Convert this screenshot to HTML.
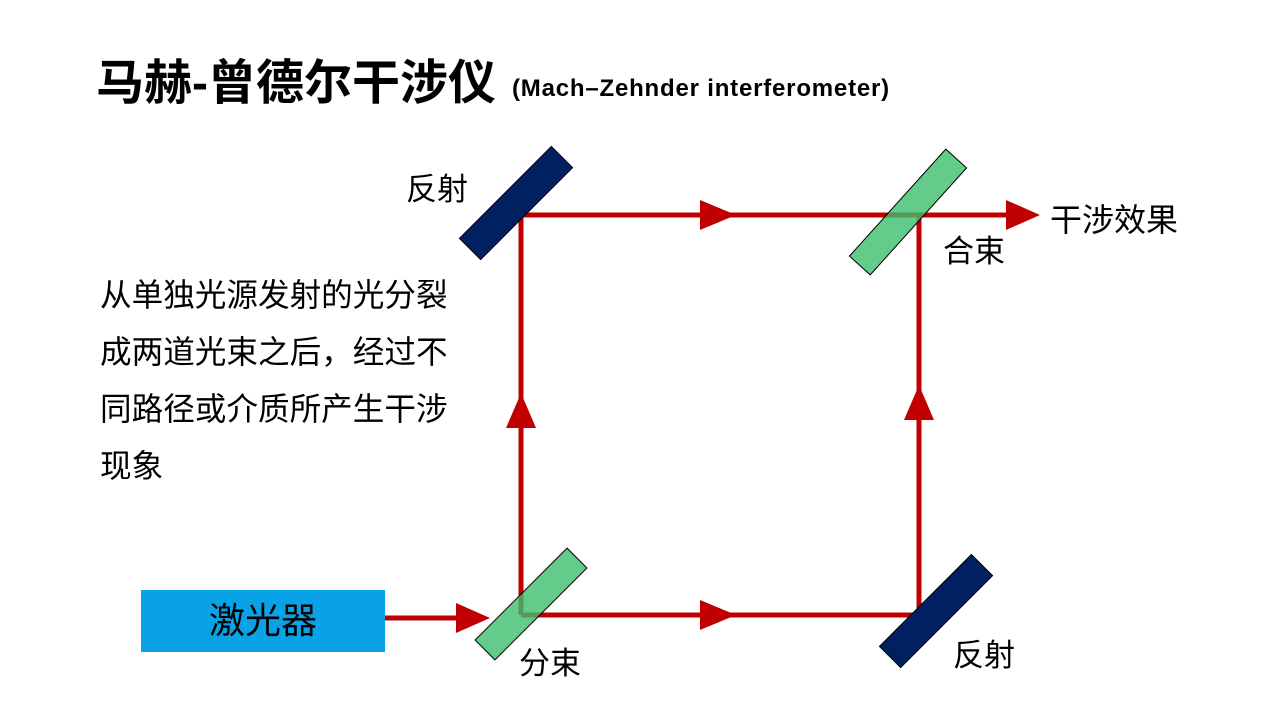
<!DOCTYPE html>
<html><head><meta charset="utf-8"><style>
body{margin:0;width:1269px;height:714px;background:#fff;overflow:hidden;position:relative;font-family:"Liberation Sans","Noto Sans CJK SC",sans-serif}
.t{position:absolute;white-space:nowrap;color:#000}
</style></head><body>
<div class="t" style="left:96px;top:52px;font-size:48px;font-weight:bold;line-height:64px">马赫-曾德尔干涉仪</div>
<div class="t" style="left:512px;top:75px;font-size:24px;font-weight:bold;letter-spacing:0.8px">(Mach–Zehnder interferometer)</div>
<div class="t" style="left:100px;top:267px;font-size:31.6px;line-height:57px">从单独光源发射的光分裂<br>成两道光束之后，经过不<br>同路径或介质所产生干涉<br>现象</div>
<div class="t" style="left:406px;top:164px;font-size:31px">反射</div>
<div class="t" style="left:943px;top:226px;font-size:31px">合束</div>
<div class="t" style="left:1050px;top:195px;font-size:32px">干涉效果</div>
<div class="t" style="left:519px;top:638px;font-size:31px">分束</div>
<div class="t" style="left:953px;top:630px;font-size:31px">反射</div>
<div style="position:absolute;left:141px;top:590px;width:244px;height:62px;background:#0aa2e6;font-size:36px;text-align:center;line-height:62px;color:#000">激光器</div>
<svg width="1269" height="714" style="position:absolute;left:0;top:0">
<g stroke="#c00000" stroke-width="5" fill="none">
<polyline points="521,615 521,215 1012,215"/>
<polyline points="521,615 919,615 919,215"/>
<line x1="385" y1="618" x2="458" y2="618"/>
</g>
<g fill="#c00000">
<polygon points="700,200 736,215 700,230"/>
<polygon points="700,600 736,615 700,630"/>
<polygon points="1006,200 1040,215 1006,230"/>
<polygon points="456,603 490,618 456,633"/>
<polygon points="506,428 521,393 536,428"/>
<polygon points="904,420 919,385 934,420"/>
</g>
<rect x="451" y="188" width="130" height="30" fill="#002060" stroke="#000" stroke-width="1" transform="rotate(-45 516 203)"/>
<rect x="871" y="596" width="130" height="30" fill="#002060" stroke="#000" stroke-width="1" transform="rotate(-45 936 611)"/>
<rect x="466" y="590" width="130" height="28" fill="#3cbf6e" fill-opacity="0.8" stroke="#000" stroke-width="1" transform="rotate(-45 531 604)"/>
<rect x="836" y="198" width="144" height="28" fill="#3cbf6e" fill-opacity="0.8" stroke="#000" stroke-width="1" transform="rotate(-48 908 212)"/>
</svg>
</body></html>
